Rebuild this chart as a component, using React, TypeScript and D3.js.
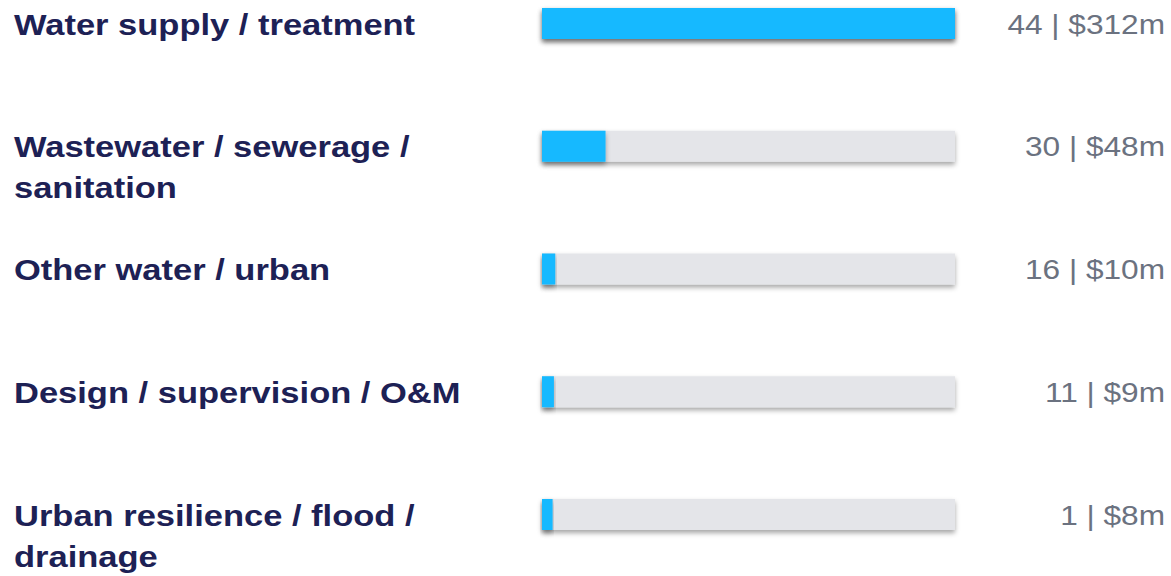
import React from "react";
import * as d3 from "d3";

const categories: string[][] = [
  ["Water supply / treatment"],
  ["Wastewater / sewerage /", "sanitation"],
  ["Other water / urban"],
  ["Design / supervision / O&M"],
  ["Urban resilience / flood /", "drainage"],
];
const counts: number[] = [44, 30, 16, 11, 1];
const amounts: number[] = [312, 48, 10, 9, 8];

const W = 1171;
const H = 576;

export default function App() {
  const x = d3.scaleLinear().domain([0, d3.max(amounts) as number]).range([542, 955]);
  const y = d3.scalePoint<number>().domain(d3.range(categories.length)).range([8, 499]);
  const bh = 31;
  const sx = 1.15;
  return (
    <svg
      width={W}
      height={H}
      style={{ position: "absolute", left: 0, top: 0 }}
      fontFamily="'Liberation Sans', Arial, sans-serif"
    >
      <defs>
        <filter id="sh" x="-10%" y="-50%" width="120%" height="220%">
          <feDropShadow dx="0" dy="3" stdDeviation="2.5" floodColor="#000" floodOpacity="0.35" />
        </filter>
      </defs>
      <rect width={W} height={H} fill="#fff" />
      {categories.map((lines, i) => {
        const top = y(i) as number;
        const cy = top + bh / 2;
        return (
          <g key={i}>
            <rect x={x(0)} y={top} width={x(d3.max(amounts) as number) - x(0)} height={bh} fill="#e4e5e9" filter="url(#sh)" />
            <rect x={x(0)} y={top} width={x(amounts[i]) - x(0)} height={bh} fill="#14b9ff" filter="url(#sh)" />
            {lines.map((ln, j) => (
              <text
                key={j}
                transform={`translate(14,${cy + 11 + j * 41}) scale(${sx},1)`}
                fontSize={30}
                fontWeight="bold"
                fill="#1d2155"
              >
                {ln}
              </text>
            ))}
            <text
              transform={`translate(1165,${cy + 10}) scale(${sx},1)`}
              fontSize={27.5}
              textAnchor="end"
              fill="#6b7280"
            >
              {`${counts[i]} | $${amounts[i]}m`}
            </text>
          </g>
        );
      })}
    </svg>
  );
}
